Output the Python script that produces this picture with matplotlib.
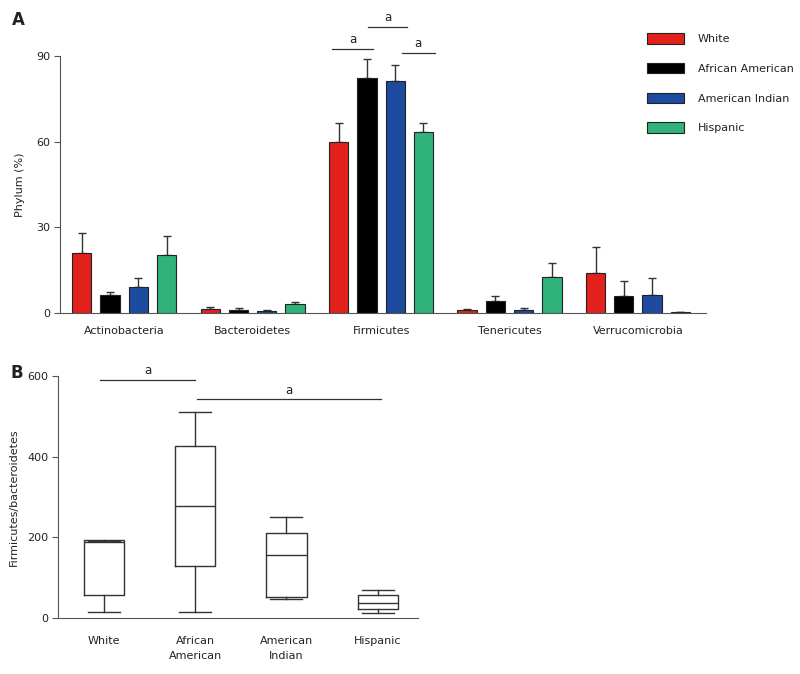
import numpy as np
import matplotlib
matplotlib.use("Agg")
import matplotlib.pyplot as plt

plt.rcParams['font.family'] = ['DejaVu Sans']
plt.rcParams['font.size'] = 8
plt.rcParams['text.color'] = '#222222'
plt.rcParams['axes.labelcolor'] = '#222222'
plt.rcParams['xtick.labelcolor'] = '#222222'
plt.rcParams['ytick.labelcolor'] = '#222222'

# panel A data
phyla = ['Actinobacteria', 'Bacteroidetes', 'Firmicutes', 'Tenericutes', 'Verrucomicrobia']
groups = ['White', 'African American', 'American Indian', 'Hispanic']
colors = ['#e3211c', '#000000', '#1c4ba0', '#2fb37a']
white_mean = [21, 1.5, 60, 1.0, 14]
white_top = [28, 2.2, 66.5, 1.5, 23]
aa_mean = [6.2, 1.2, 82.2, 4.2, 5.9]
aa_top = [7.2, 1.8, 88.8, 5.9, 11.2]
ai_mean = [9.1, 0.8, 81.4, 1.2, 6.4]
ai_top = [12.2, 1.1, 86.9, 1.8, 12.1]
hisp_mean = [20.3, 3.0, 63.5, 12.5, 0.3]
hisp_top = [27, 4.0, 66.5, 17.4, 0.5]

# panel B data (box stats)
box_labels = ['White', 'African\nAmerican', 'American\nIndian', 'Hispanic']
b_low = [14, 14, 47, 12]
b_q1 = [58, 130, 53, 22]
b_med = [189, 278, 155, 36]
b_q3 = [193, 426, 210, 57]
b_high = [192, 511, 251, 69]

fig = plt.figure(figsize=(8, 6.74), dpi=100)
spine_col = '#555555'

# ---- panel A ----
axA = fig.add_axes([60/800, 1-313/674, 646/800, 257/674])
means = [white_mean, aa_mean, ai_mean, hisp_mean]
tops = [white_top, aa_top, ai_top, hisp_top]
x = np.arange(len(phyla))
bw = 0.15
step = 0.22
for i in range(4):
    m = np.array(means[i])
    t = np.array(tops[i])
    xs = x + (i - 1.5) * step
    axA.bar(xs, m, width=bw, color=colors[i], edgecolor='#222222', linewidth=0.8,
            label=groups[i], zorder=2)
    axA.errorbar(xs, m, yerr=[np.zeros_like(m), t - m], fmt='none',
                 ecolor='#333333', elinewidth=1, capsize=3, capthick=1, zorder=1)

axA.set_xlim(-0.5, 4.53)
axA.set_ylim(0, 90)
axA.set_yticks([0, 30, 60, 90])
axA.set_xticks(x)
axA.set_xticklabels(phyla)
axA.tick_params(axis='x', length=0, pad=9)
axA.tick_params(axis='y', length=4, color=spine_col, pad=3)
for s in ['top', 'right']:
    axA.spines[s].set_visible(False)
for s in ['left', 'bottom']:
    axA.spines[s].set_color(spine_col)
axA.set_ylabel('Phylum (%)', labelpad=8)

# significance marks
def sig(ax, x0, x1, y, ty):
    ax.plot([x0, x1], [y, y], color='#333333', lw=0.9, clip_on=False)
    ax.text((x0 + x1) / 2, ty, 'a', ha='center', va='bottom', fontsize=8.5, clip_on=False)

f = 2
sig(axA, f - 1.5*step - 0.05, f - 0.5*step + 0.05, 92.4, 93.4)
sig(axA, f - 0.5*step + 0.01, f + 0.5*step + 0.09, 100.2, 101.2)
sig(axA, f + 0.5*step + 0.05, f + 1.5*step + 0.09, 91.0, 92.0)

leg = axA.legend(loc='upper left', bbox_to_anchor=(647/800, 1-33/674),
                 bbox_transform=fig.transFigure, frameon=False, borderpad=0,
                 borderaxespad=0, handlelength=3.3, handleheight=1.1,
                 labelspacing=1.68, handletextpad=1.3, fontsize=8)

fig.text(12/800, 1-20/674, 'A', fontsize=12, fontweight='bold', va='center', ha='left')

# ---- panel B ----
axB = fig.add_axes([58/800, 1-618/674, 360/800, 242/674])
stats = []
for i in range(4):
    stats.append(dict(whislo=b_low[i], q1=b_q1[i], med=b_med[i], q3=b_q3[i],
                      whishi=b_high[i], fliers=[]))
lp = dict(color='#333333', linewidth=1)
axB.bxp(stats, positions=[1, 2, 3, 4], widths=0.44, showfliers=False,
        boxprops=lp, whiskerprops=lp, capprops=lp, medianprops=lp,
        capwidths=0.35)
axB.set_xlim(0.5, 4.44)
axB.set_ylim(0, 600)
axB.set_yticks([0, 200, 400, 600])
axB.set_xticks([1, 2, 3, 4])
axB.set_xticklabels(box_labels, linespacing=1.6)
axB.tick_params(axis='x', length=0, pad=13)
axB.tick_params(axis='y', length=4, color=spine_col, pad=3)
for s in ['top', 'right']:
    axB.spines[s].set_visible(False)
for s in ['left', 'bottom']:
    axB.spines[s].set_color(spine_col)
axB.set_ylabel('Firmicutes/bacteroidetes', labelpad=6)

sig(axB, 0.96, 2.0, 591, 597)
sig(axB, 2.02, 4.04, 543, 549)

fig.text(10/800, 1-373/674, 'B', fontsize=12, fontweight='bold', va='center', ha='left')

fig.savefig('out.png', dpi=100)
